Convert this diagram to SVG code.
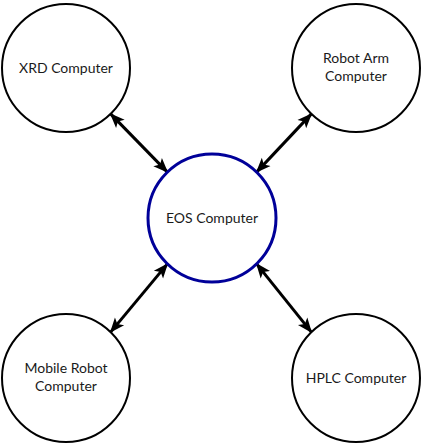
<svg xmlns="http://www.w3.org/2000/svg" width="424" height="444" viewBox="0 0 424 444">
<defs>
<style>
.node{fill:#fff;stroke:#000;stroke-width:2}
.eos{fill:#fff;stroke:#000099;stroke-width:3}
.lbl{font-family:Lato,"Liberation Sans",sans-serif;font-size:14px;fill:#1a1a1a;text-anchor:middle}
.edge{stroke:#000;stroke-width:3;fill:none}
</style>
<marker id="ah" viewBox="0 0 15 14" refX="14" refY="7" markerWidth="15" markerHeight="14" markerUnits="userSpaceOnUse" orient="auto-start-reverse">
<path d="M0,1 L15,7 L0,13 L3.5,7 Z" fill="#000"/>
</marker>
</defs>
<rect width="424" height="444" fill="#fff"/>
<g id="connectors">
<line class="edge" x1="110.6" y1="113.9" x2="167.4" y2="172.1" marker-start="url(#ah)" marker-end="url(#ah)"/>
<line class="edge" x1="311.4" y1="113.9" x2="256.6" y2="172.1" marker-start="url(#ah)" marker-end="url(#ah)"/>
<line class="edge" x1="110.6" y1="332.1" x2="167.4" y2="263.9" marker-start="url(#ah)" marker-end="url(#ah)"/>
<line class="edge" x1="311.4" y1="332.1" x2="256.6" y2="263.9" marker-start="url(#ah)" marker-end="url(#ah)"/>
</g>
<g id="xrd"><circle class="node" cx="66" cy="68" r="64"/><text class="lbl" x="66" y="73">XRD Computer</text></g>
<g id="robotarm"><circle class="node" cx="356" cy="68" r="64"/><text class="lbl" x="356" y="63">Robot Arm</text><text class="lbl" x="356" y="81">Computer</text></g>
<g id="eos"><circle class="eos" cx="212" cy="218" r="64"/><text class="lbl" x="212" y="223">EOS Computer</text></g>
<g id="mobile"><circle class="node" cx="66" cy="378" r="64"/><text class="lbl" x="66" y="373">Mobile Robot</text><text class="lbl" x="66" y="391">Computer</text></g>
<g id="hplc"><circle class="node" cx="356" cy="378" r="64"/><text class="lbl" x="356" y="383">HPLC Computer</text></g>
</svg>
